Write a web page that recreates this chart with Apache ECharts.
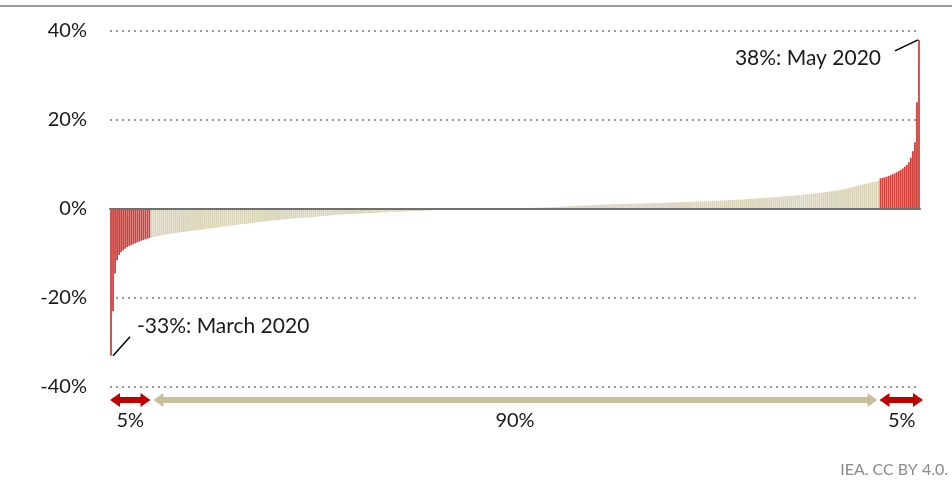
<!DOCTYPE html>
<html><head><meta charset="utf-8">
<script src="https://cdn.jsdelivr.net/npm/echarts@6/dist/echarts.min.js"></script>
<style>html,body{margin:0;padding:0;background:#fff}#c{width:952px;height:483px}</style>
</head><body><div id="c"></div>
<script>
// Sorted monthly changes (%), lowest 5%, middle 90%, highest 5%
var lowTail = [-33, -23, -14.5, -11.5, -10.3, -9.7, -9.3, -8.9, -8.6, -8.3, -8.1, -7.9, -7.7, -7.5, -7.3, -7.1, -6.95, -6.8, -6.65, -6.5];
var middle = [
 -6.4, -6.3, -6.2, -6.1, -6.0, -5.9, -5.8, -5.75, -5.65, -5.6,
 -5.5, -5.45, -5.4, -5.3, -5.25, -5.2, -5.15, -5.1, -5.0, -4.95,
 -4.9, -4.85, -4.8, -4.75, -4.7, -4.65, -4.6, -4.5, -4.45, -4.4,
 -4.3, -4.25, -4.2, -4.15, -4.1, -4.0, -3.95, -3.9, -3.8, -3.75,
 -3.7, -3.65, -3.6, -3.5, -3.45, -3.4, -3.35, -3.3, -3.2, -3.15,
 -3.1, -3.05, -3.0, -2.95, -2.9, -2.85, -2.8, -2.75, -2.7, -2.65,
 -2.6, -2.55, -2.5, -2.45, -2.4, -2.35, -2.3, -2.25, -2.2, -2.15,
 -2.1, -2.08, -2.05, -2.02, -2.0, -1.97, -1.93, -1.9, -1.86, -1.82,
 -1.78, -1.74, -1.7, -1.66, -1.62, -1.58, -1.54, -1.5, -1.46, -1.42,
 -1.38, -1.35, -1.32, -1.29, -1.26, -1.23, -1.2, -1.17, -1.14, -1.11,
 -1.08, -1.05, -1.03, -1.0, -0.98, -0.96, -0.94, -0.92, -0.9, -0.88,
 -0.86, -0.84, -0.82, -0.8, -0.78, -0.76, -0.74, -0.72, -0.7, -0.68,
 -0.66, -0.64, -0.62, -0.6, -0.58, -0.56, -0.54, -0.52, -0.5, -0.48,
 -0.46, -0.44, -0.42, -0.4, -0.38, -0.36, -0.34, -0.32, -0.3, -0.28,
 -0.26, -0.24, -0.22, -0.2, -0.18, -0.16, -0.14, -0.12, -0.1, -0.09,
 -0.08, -0.07, -0.06, -0.05, -0.05, -0.04, -0.03, -0.03, -0.02, -0.02,
 -0.01, -0.01, 0, 0, 0, 0.01, 0.01, 0.02, 0.02, 0.03,
 0.04, 0.05, 0.06, 0.07, 0.08, 0.09, 0.1, 0.11, 0.12, 0.14,
 0.15, 0.16, 0.18, 0.19, 0.2, 0.22, 0.23, 0.25, 0.26, 0.28,
 0.3, 0.31, 0.33, 0.34, 0.36, 0.37, 0.39, 0.4, 0.42, 0.44,
 0.46, 0.48, 0.51, 0.53, 0.56, 0.58, 0.61, 0.63, 0.66, 0.68,
 0.7, 0.73, 0.75, 0.78, 0.8, 0.82, 0.85, 0.87, 0.9, 0.92,
 0.95, 0.96, 0.98, 1.0, 1.01, 1.03, 1.04, 1.06, 1.07, 1.09,
 1.1, 1.11, 1.13, 1.14, 1.15, 1.17, 1.18, 1.19, 1.2, 1.22,
 1.23, 1.24, 1.25, 1.26, 1.27, 1.28, 1.3, 1.31, 1.32, 1.34,
 1.35, 1.36, 1.38, 1.39, 1.41, 1.42, 1.44, 1.45, 1.47, 1.48,
 1.5, 1.52, 1.53, 1.55, 1.56, 1.58, 1.6, 1.62, 1.64, 1.66,
 1.68, 1.69, 1.71, 1.72, 1.74, 1.75, 1.77, 1.79, 1.81, 1.83,
 1.85, 1.87, 1.9, 1.92, 1.95, 1.97, 2.0, 2.02, 2.05, 2.07,
 2.1, 2.13, 2.16, 2.19, 2.22, 2.25, 2.28, 2.31, 2.34, 2.37,
 2.4, 2.43, 2.46, 2.49, 2.52, 2.55, 2.58, 2.61, 2.65, 2.68,
 2.72, 2.76, 2.8, 2.84, 2.88, 2.92, 2.96, 3.0, 3.04, 3.08,
 3.12, 3.17, 3.22, 3.27, 3.32, 3.37, 3.42, 3.47, 3.52, 3.57,
 3.62, 3.68, 3.74, 3.8, 3.87, 3.94, 4.01, 4.08, 4.15, 4.22,
 4.3, 4.38, 4.46, 4.56, 4.66, 4.78, 4.9, 5.02, 5.14, 5.26,
 5.38, 5.5, 5.6, 5.7, 5.8, 5.9, 6.0, 6.1, 6.2, 6.3
];
var highTail = [6.9, 7.0, 7.1, 7.25, 7.4, 7.6, 7.8, 8.0, 8.25, 8.5, 8.8, 9.1, 9.5, 9.9, 10.5, 11.5, 13, 15, 24, 38];
var yTicks = [-40, -20, 0, 20, 40];
var minLabel = '-33%: March 2020';
var maxLabel = '38%: May 2020';
var shareLabels = ['5%', '90%', '5%'];

var RED = '#d0403a', BEIGE = '#dad4b8', ARED = '#c00000', ABEIGE = '#c8bf9c';
var FONT = 'Lato';

var all = lowTail.concat(middle, highTail);
var cats = all.map(function (_, i) { return String(i + 1); });
var data = all.map(function (v, i) {
  var red = i < lowTail.length || i >= lowTail.length + middle.length;
  return { value: v, itemStyle: { color: red ? RED : BEIGE } };
});

var chart = echarts.init(document.getElementById('c'), null, { renderer: 'canvas' });
chart.setOption({
  animation: false,
  grid: { left: 110, right: 32, top: 31, bottom: 96, containLabel: false },
  xAxis: {
    type: 'category', data: cats,
    axisLine: { onZero: true, lineStyle: { color: '#707070', width: 2 } },
    axisTick: { show: false }, axisLabel: { show: false }, splitLine: { show: false },
    z: 5
  },
  yAxis: {
    type: 'value', min: yTicks[0], max: yTicks[yTicks.length - 1], interval: 20,
    axisLine: { show: false }, axisTick: { show: false },
    axisLabel: { formatter: function (v) { return v + '%'; }, fontFamily: FONT, fontSize: 20, color: '#1a1a1a', margin: 23 },
    splitLine: { lineStyle: { type: [2, 4], color: '#9a9a9a', width: 2 } }
  },
  series: [{
    type: 'bar', data: data, barCategoryGap: '12%', silent: true
  }]
});

function draw() {
  var p0 = chart.convertToPixel({ xAxisIndex: 0 }, 0);
  var p1 = chart.convertToPixel({ xAxisIndex: 0 }, 1);
  var bw = p1 - p0;
  var left = p0 - bw / 2;
  var n = all.length;
  var xAt = function (k) { return left + bw * k; };
  var x1 = xAt(lowTail.length), x2 = xAt(lowTail.length + middle.length), xEnd = xAt(n);
  var yBottom = chart.convertToPixel({ yAxisIndex: 0 }, yTicks[0]);
  var ya = yBottom + 13, yl = yBottom + 34;

  function arrow(a, b, yc, color) {
    var h = 10, hh = 7, sh = 3;
    return { type: 'polygon', shape: { points: [[a, yc], [a + h, yc - hh], [a + h, yc - sh], [b - h, yc - sh], [b - h, yc - hh], [b, yc], [b - h, yc + hh], [b - h, yc + sh], [a + h, yc + sh], [a + h, yc + hh]] }, style: { fill: color }, silent: true };
  }
  function txt(x, y, s, align, size, color) {
    return { type: 'text', x: x, y: y, style: { text: s, fontFamily: FONT, fontSize: size || 20, fill: color || '#1a1a1a', align: align || 'center', verticalAlign: 'middle' }, silent: true };
  }
  var minPt = chart.convertToPixel({ seriesIndex: 0 }, [0, all[0]]);
  var maxPt = chart.convertToPixel({ seriesIndex: 0 }, [n - 1, all[n - 1]]);

  chart.setOption({
    graphic: [
      { type: 'rect', shape: { x: 0, y: 5, width: 952, height: 2 }, style: { fill: '#9a9a9a' }, silent: true },
      arrow(left, x1, ya, ARED),
      arrow(x1 + 3, x2 - 2, ya, ABEIGE),
      arrow(x2, xEnd + 3, ya, ARED),
      txt((left + x1) / 2, yl, shareLabels[0]),
      txt((x1 + x2) / 2, yl, shareLabels[1]),
      txt((x2 + xEnd) / 2 + 2, yl, shareLabels[2]),
      { type: 'line', shape: { x1: minPt[0] + 2, y1: minPt[1], x2: minPt[0] + 19, y2: minPt[1] - 19 }, style: { stroke: '#000', lineWidth: 1.5 }, silent: true },
      txt(minPt[0] + 26, minPt[1] - 30, minLabel, 'left', 21),
      { type: 'line', shape: { x1: maxPt[0] - 24, y1: maxPt[1] + 11, x2: maxPt[0] - 1, y2: maxPt[1] }, style: { stroke: '#000', lineWidth: 1.5 }, silent: true },
      txt(maxPt[0] - 38, maxPt[1] + 18, maxLabel, 'right', 21),
      txt(948, 470, 'IEA. CC BY 4.0.', 'right', 16, '#8a8a8a')
    ]
  });
}
draw();
</script>
</body></html>
